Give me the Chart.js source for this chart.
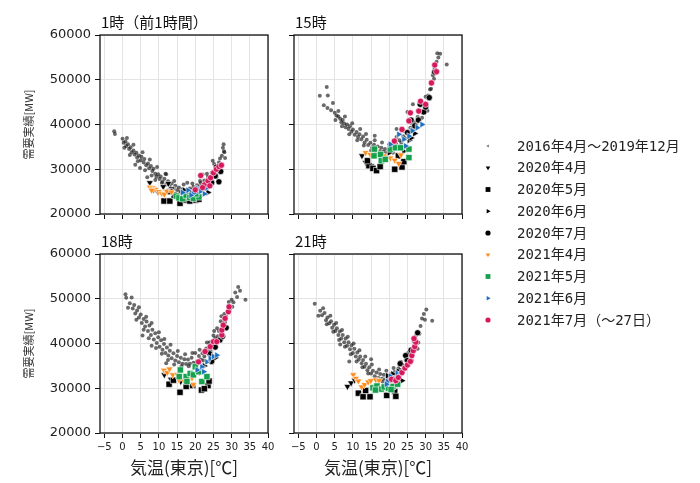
<!DOCTYPE html>
<html>
<head>
<meta charset="utf-8">
<script src="https://cdn.jsdelivr.net/npm/chart.js"></script>
<style>
  body { margin: 0; background: #fff; }
  #wrap { position: relative; width: 700px; height: 483px; }
  canvas { position: absolute; }
</style>
</head>
<body>
<div id="wrap">
  <canvas id="p1" width="290" height="240" style="left:0;top:0"></canvas>
  <canvas id="p2" width="200" height="240" style="left:280px;top:0"></canvas>
  <canvas id="p3" width="290" height="261" style="left:0;top:222px"></canvas>
  <canvas id="p4" width="200" height="261" style="left:280px;top:222px"></canvas>
  <canvas id="lg" width="230" height="220" style="left:470px;top:120px"></canvas>
</div>
<script>
'use strict';

var panelTitles = ['1時（前1時間）', '15時', '18時', '21時'];
var seriesLabels = ['2016年4月～2019年12月', '2020年4月', '2020年5月', '2020年6月', '2020年7月',
                    '2021年4月', '2021年5月', '2021年6月', '2021年7月（～27日）'];
var xTicks = [-5, 0, 5, 10, 15, 20, 25, 30, 35, 40];
var yTicks = [20000, 30000, 40000, 50000, 60000];

// ---- 1時 [気温, 需要] ----
var h1_past = [[-2.3,38500],[-2.1,37900],[0.0,36800],[0.3,35900],[0.8,36200],[1.0,35200],[1.5,35600],[1.8,34500],
  [2.2,34900],[2.5,33800],[3.0,34200],[3.3,33300],[3.8,33700],[4.0,32600],[4.5,33100],[5.0,32000],[5.2,32800],
  [5.8,31500],[6.0,32300],[6.5,30900],[7.0,31300],[7.3,30200],[7.8,30700],[8.2,29600],[8.5,30100],[9.0,29000],
  [9.3,28300],[9.8,28900],[10.2,27800],[10.5,28400],[11.0,27200],[11.5,27900],[12.0,26600],[12.5,27300],
  [13.0,26100],[13.5,26800],[14.0,25700],[14.5,26300],[15.0,25300],[15.5,25900],[16.0,25100],[16.5,25600],
  [17.0,24900],[17.5,25400],[18.0,25000],[18.5,25700],[19.0,25300],[19.5,26100],[20.0,25600],[20.5,26400],
  [21.0,26000],[21.5,26900],[22.0,26500],[22.5,27500],[23.0,27100],[23.5,28300],[24.0,27800],[24.5,29200],
  [25.0,28700],[25.5,30300],[26.0,29800],[26.5,31500],[27.0,30900],[27.3,33000],[27.6,34800],[27.8,35600],
  [27.9,34000],[28.2,32500],[6.8,28200],[3.5,31000],[12.0,28900],[22.0,28800],
  [0.5,34800],[1.2,37000],[2.0,33200],[3.0,35500],[4.2,31800],[5.5,33800],[6.2,29800],[7.5,32200],[8.0,28600],
  [9.5,30500],[10.8,26900],[11.8,29000],[13.2,25200],[14.2,27400],[15.8,24600],[16.8,26600],[18.2,24400],
  [19.2,26800],[20.3,24900],[21.3,27400],[22.3,25800],[23.2,29000],[24.2,27000],[25.2,31200],[25.8,28200],
  [26.8,32400],[27.2,29600],[28.0,33800],[4.8,30300],[9.0,27600],[17.8,27000],[24.8,31900]];
var h1_apr20 = [[8.5,25500],[9.8,24900],[11.2,26100],[12.6,26800],[7.5,27000],[13.5,25600]];
var h1_may20 = [[11.4,22900],[13.0,22900],[14.2,24200],[15.8,22400],[17.5,23100],[18.5,22900],[20.2,23100],[21.0,23300],[13.0,25000]];
var h1_jun20 = [[17.0,25300],[19.0,24800],[21.0,25600],[22.5,26300],[23.5,24800]];
var h1_jul20 = [[24.5,27000],[25.5,28500],[26.5,27200],[23.0,26000],[27.0,29500],[25.8,30500]];
var h1_apr21 = [[7.5,26000],[8.3,25800],[9.0,25500],[10.0,25000],[10.8,24600],[11.5,24400],[12.2,25100],[13.5,24900],[8.0,25300]];
var h1_may21 = [[14.8,24000],[15.5,23600],[16.5,23400],[17.5,24200],[18.5,23700],[19.5,23500],[21.0,23800],[20.2,24500]];
var h1_jun21 = [[16.5,24800],[18.0,25300],[19.5,24600],[20.5,25700],[21.5,25100],[22.5,24500],[23.0,25800],[18.8,24200]];
var h1_jul21 = [[20.0,25400],[21.5,28600],[22.5,26500],[23.5,27400],[24.2,28100],[25.0,29200],[25.8,30000],[26.5,30600],[27.2,30900],[24.0,26300],[22.0,25900]];

// ---- 15時 ----
var h15_past = [[0.9,46400],[2.8,48400],[3.1,46500],[4.5,44800],[3.0,43700],[2.0,44300],[5.0,42600],[5.5,42000],
  [6.0,41800],[6.5,41300],[6.8,40500],[7.2,41000],[7.6,40200],[8.0,39400],[8.4,40000],[8.8,39000],[9.2,39600],
  [9.6,38400],[10.0,38900],[10.5,37700],[11.0,38300],[11.4,37200],[11.8,37800],[12.3,36700],[12.8,37300],
  [13.2,36000],[13.8,36600],[14.2,35400],[14.8,35900],[15.3,34900],[15.8,35500],[16.3,34500],[16.8,35100],
  [17.3,34100],[17.8,34800],[18.3,33900],[18.8,34500],[19.3,33700],[19.8,34400],[20.3,34000],[20.8,35000],
  [21.3,34500],[21.8,35800],[22.3,35200],[22.8,36500],[23.3,36000],[23.8,37400],[24.3,36900],[24.8,38300],
  [25.3,37800],[25.8,39300],[26.3,38800],[26.8,40500],[27.3,40000],[27.8,41700],[28.3,41200],[28.8,43000],
  [29.3,42600],[29.8,44700],[30.3,44200],[30.7,46500],[31.2,47800],[31.6,49500],[32.0,51000],[32.5,52500],
  [33.0,54000],[33.5,55000],[34.0,55800],[35.8,53400],[25.0,42800],[22.0,39000],[16.0,37500],
  [4.0,43200],[5.2,41000],[6.0,43000],[7.0,39600],[7.8,41800],[9.0,37800],[9.8,40300],[11.2,36500],[12.0,39000],
  [13.0,35300],[13.6,37900],[15.0,34200],[16.0,36500],[17.0,33500],[18.0,36000],[19.0,33100],[20.0,35600],
  [21.0,33700],[22.0,37200],[23.0,35100],[24.0,38600],[25.0,36800],[26.0,40400],[27.0,38900],[28.0,43200],
  [29.0,41500],[30.0,46200],[30.5,43100],[31.5,48000],[32.3,50200],[33.2,55900],[26.5,44500]];
var h15_apr20 = [[13.5,31500],[15.0,30800],[12.5,33000]];
var h15_may20 = [[14.4,30800],[15.5,30200],[16.5,29700],[17.5,30600],[21.5,30000],[23.5,30500],[24.0,31700],[22.5,33000],[14.0,31900]];
var h15_jun20 = [[20.0,33700],[22.0,35000],[24.0,34000],[25.5,36500],[27.0,38000],[26.0,37000]];
var h15_jul20 = [[25.0,38200],[27.0,39700],[28.0,41000],[29.5,42800],[30.0,43900],[28.5,44500],[31.0,46000],[32.5,51700],[26.0,41000]];
var h15_apr21 = [[13.5,33700],[14.8,33300],[16.2,34000],[17.4,32600],[18.5,33000],[20.3,32500],[21.5,32000],[22.6,31300],[23.2,33200]];
var h15_may21 = [[15.9,34500],[17.6,33300],[17.8,31900],[18.9,32200],[20.3,34500],[21.7,34800],[23.1,34800],[25.4,34500],[25.4,32600],[15.8,33000]];
var h15_jun21 = [[20.3,35600],[22.6,37800],[24.0,36700],[25.4,37400],[26.3,38600],[27.7,39300],[29.0,40000],[24.5,35200]];
var h15_jul21 = [[21.4,36300],[23.5,38900],[25.4,40800],[25.8,42600],[28.1,43000],[28.6,45200],[30.0,44500],[31.6,49300],[32.5,53300],[33.0,51800]];

// ---- 18時 ----
var h18_past = [[0.8,51000],[1.0,50200],[2.0,49000],[2.8,47800],[3.2,48600],[3.5,46700],[4.0,47400],[4.5,45800],
  [5.0,46500],[5.3,44600],[5.8,45500],[6.2,43800],[6.6,44900],[7.0,42800],[7.4,44000],[7.8,41900],[8.2,43100],
  [8.6,40900],[9.0,42300],[9.4,40100],[9.8,41400],[10.2,39300],[10.6,40700],[11.0,38600],[11.4,39900],
  [11.8,37900],[12.2,39100],[12.6,37300],[13.0,38400],[13.5,36700],[14.0,37800],[14.5,36200],[15.0,37200],
  [15.5,35800],[16.0,36800],[16.5,35500],[17.0,36500],[17.5,35400],[18.0,36400],[18.5,35500],[19.0,36800],
  [19.5,35700],[20.0,37900],[20.5,36000],[21.0,37200],[21.5,36400],[22.0,37800],[22.5,37100],[23.0,38900],
  [23.5,38200],[24.0,40300],[24.5,39600],[25.0,41800],[25.5,41200],[26.0,43400],[26.5,42800],[27.0,45000],
  [27.5,44400],[28.0,46600],[28.5,46000],[29.0,48200],[29.5,47700],[30.0,49800],[30.5,49200],[31.0,51400],
  [31.8,52600],[32.3,51800],[33.8,49800],[8.0,39500],[12.0,35600],[5.5,41800],
  [1.5,48000],[2.5,50300],[3.8,45300],[4.5,48100],[5.8,43100],[6.5,46000],[7.2,41200],[8.0,44600],[9.2,39000],
  [10.0,42500],[10.8,37700],[11.5,41000],[12.5,36300],[13.2,39700],[14.2,35300],[15.2,38300],[16.2,34900],
  [17.2,37600],[18.2,34900],[19.2,37900],[20.2,35400],[21.2,38600],[22.2,36200],[23.2,40200],[24.2,38400],
  [25.2,42800],[26.2,41600],[27.2,46100],[28.2,44800],[29.2,49300],[30.2,48200],[31.5,50400]];
var h18_apr20 = [[11.5,33000],[13.3,32000],[16.0,31500]];
var h18_may20 = [[12.8,30900],[14.0,31800],[15.8,29100],[17.5,30400],[19.3,30600],[21.7,29600],[23.5,30600],[23.8,31600],[22.5,29900]];
var h18_jun20 = [[20.5,34200],[22.5,35000],[24.5,36200],[25.5,36800],[21.5,33500]];
var h18_jul20 = [[24.0,37700],[25.5,39200],[26.8,40800],[27.5,41600],[28.5,43500],[24.5,36000]];
var h18_apr21 = [[11.4,34000],[12.3,33500],[12.9,34300],[13.8,33000],[15.0,33100],[15.5,31900],[16.8,31800],[18.5,32400],[19.5,30800],[19.1,32300]];
var h18_may21 = [[15.9,34100],[15.6,32600],[17.5,32600],[18.6,33300],[17.7,31500],[19.5,33000],[20.0,34800],[21.8,31500],[23.2,32600],[20.9,33700]];
var h18_jun21 = [[20.5,34100],[21.8,34800],[23.2,35900],[24.1,36700],[25.0,37100],[25.9,37400],[22.3,33700]];
var h18_jul21 = [[20.9,35900],[22.7,38200],[24.1,39300],[25.0,40400],[25.9,40400],[27.3,41900],[27.3,43000],[27.7,44100],[28.2,45600],[29.1,47100],[29.3,48200]];

// ---- 21時 ----
var h21_past = [[-0.5,48900],[1.0,47300],[1.5,46300],[2.2,46800],[2.6,45200],[3.0,45800],[3.5,44500],[4.0,45000],
  [4.3,43500],[4.8,44200],[5.2,42800],[5.6,43400],[6.0,41900],[6.4,42700],[6.8,41100],[7.2,41900],[7.6,40300],
  [8.0,41100],[8.4,39500],[8.8,40300],[9.2,38700],[9.6,39600],[10.0,37900],[10.4,38800],[10.8,37100],
  [11.2,38000],[11.6,36400],[12.0,37100],[12.4,35600],[12.8,36300],[13.2,34800],[13.6,35500],[14.0,34000],
  [14.5,34700],[15.0,33300],[15.5,33900],[16.0,32700],[16.5,33500],[17.0,32300],[17.5,33200],[18.0,32100],
  [18.5,33000],[19.0,32000],[19.5,32900],[20.0,32300],[20.5,33200],[21.0,32800],[21.5,33700],[22.0,33400],
  [22.5,34400],[23.0,34100],[23.5,35300],[24.0,35000],[24.5,36300],[25.0,36000],[25.5,37500],[26.0,37200],
  [26.5,38800],[27.0,38600],[27.5,40300],[28.0,40200],[28.3,42200],[28.6,43900],[29.0,45600],[29.5,46600],
  [30.2,47600],[31.8,45100],[9.0,36000],[15.0,36500],[6.5,39800],
  [0.5,46200],[1.8,47900],[2.8,44300],[3.8,46200],[4.6,42600],[5.4,44600],[6.2,40800],[7.0,43000],[7.8,39300],
  [8.6,41500],[9.4,37600],[10.2,40000],[11.0,36000],[11.8,38500],[12.6,34700],[13.4,37100],[14.2,33300],
  [15.2,35300],[16.2,32000],[17.2,34200],[18.2,31500],[19.2,33900],[20.2,31700],[21.2,34500],[22.2,32800],
  [23.2,35900],[24.2,34300],[25.2,37900],[26.2,36200],[27.2,41600],[27.8,38800],[29.8,45300]];
var h21_apr20 = [[8.5,30400],[9.5,31200],[10.5,31800]];
var h21_may20 = [[11.5,28900],[12.8,28100],[14.7,28100],[19.3,28400],[21.5,29300],[21.8,28200],[13.5,29500]];
var h21_jun20 = [[19.5,32800],[21.0,33200],[22.5,33800],[23.5,31700]];
var h21_jul20 = [[23.0,35500],[24.5,37300],[26.0,38500],[27.0,40600],[27.8,42400],[25.0,36200]];
var h21_apr21 = [[10.1,33000],[10.8,32200],[11.5,31600],[12.4,30300],[13.2,30800],[14.2,31400],[14.9,31700],[16.3,31900],[17.2,31700]];
var h21_may21 = [[15.5,30100],[16.6,30500],[17.8,29800],[18.6,30300],[19.8,30000],[21.0,30400],[22.3,30900],[16.2,29600],[20.5,29700]];
var h21_jun21 = [[19.5,31500],[20.3,32700],[21.5,32100],[22.2,33400],[19.2,30900],[23.0,33000]];
var h21_jul21 = [[20.6,32000],[21.8,31700],[22.5,32400],[23.5,33500],[24.3,34500],[25.0,35200],[25.8,36000],[26.2,37300],[26.6,38400],[27.0,39300],[27.3,40300],[26.8,41100]];

var seriesStyle = [
  { shape: 'circle',   rot: 0,   r: 2.0, color: 'rgba(15,15,15,0.62)', ew: 0 },
  { shape: 'triangle', rot: 180, r: 4.0, color: '#000', ew: 0.6 },
  { shape: 'rect',     rot: 0,   r: 4.4, color: '#000', ew: 0.6 },
  { shape: 'triangle', rot: 90,  r: 4.0, color: '#000', ew: 0.6 },
  { shape: 'circle',   rot: 0,   r: 3.1, color: '#000', ew: 0.6 },
  { shape: 'triangle', rot: 180, r: 4.0, color: '#ff8c1a', ew: 0.6 },
  { shape: 'rect',     rot: 0,   r: 4.4, color: '#14a04c', ew: 0.6 },
  { shape: 'triangle', rot: 90,  r: 4.0, color: '#1f6fbf', ew: 0.6 },
  { shape: 'circle',   rot: 0,   r: 3.1, color: '#d6195c', ew: 0.6 }
];

var panelTitlePlugin = {
  id: 'panelTitle',
  afterDraw: function (chart, args, opts) {
    var ctx = chart.ctx, a = chart.chartArea;
    ctx.save();
    ctx.font = '15px "Noto Sans CJK JP"';
    ctx.fillStyle = '#111';
    ctx.textBaseline = 'middle';
    ctx.fillText(opts.text, a.left + 1, a.top - 13);
    ctx.restore();
  }
};

var framePlugin = {
  id: 'frame',
  afterDatasetsDraw: function (chart) {
    var ctx = chart.ctx, a = chart.chartArea;
    ctx.save();
    ctx.strokeStyle = '#111';
    ctx.lineWidth = 1.3;
    ctx.strokeRect(a.left, a.top, a.right - a.left, a.bottom - a.top);
    ctx.restore();
  }
};

function makePanel(id, title, sets, cfg) {
  return new Chart(document.getElementById(id), {
    type: 'scatter',
    data: {
      datasets: sets.map(function (d, i) {
        var s = seriesStyle[i];
        return {
          label: seriesLabels[i],
          data: d.map(function (p) { return { x: p[0], y: p[1] }; }),
          pointStyle: s.shape,
          rotation: s.rot,
          pointRadius: s.r,
          pointBackgroundColor: s.color,
          pointBorderColor: '#fff',
          pointBorderWidth: s.ew,
          order: 9 - i
        };
      })
    },
    options: {
      responsive: false,
      animation: false,
      devicePixelRatio: 1,
      events: [],
      layout: { padding: cfg.pad },
      plugins: {
        legend: { display: false },
        tooltip: { enabled: false },
        panelTitle: { text: title }
      },
      scales: {
        x: {
          min: -6.2, max: 40,
          afterBuildTicks: function (s) { s.ticks = xTicks.map(function (v) { return { value: v }; }); },
          afterFit: function (s) { s.height = cfg.xh; },
          border: { display: false },
          grid: { color: '#e4e4e4', lineWidth: 1, tickColor: '#111', tickLength: 5, tickWidth: 1 },
          ticks: {
            display: cfg.xlab, padding: 3, maxRotation: 0, autoSkip: false,
            color: '#222', font: { family: 'DejaVu Sans', size: 10 },
            callback: function (v) { return v < 0 ? '\u2212' + Math.abs(v) : String(v); }
          },
          title: {
            display: cfg.xlab, text: '気温(東京)[℃]', color: '#222',
            font: { family: 'Noto Sans CJK JP', size: 17 }, padding: { top: 0, bottom: 5 }
          }
        },
        y: {
          min: 20000, max: 60000,
          afterBuildTicks: function (s) { s.ticks = yTicks.map(function (v) { return { value: v }; }); },
          afterFit: function (s) { s.width = cfg.yw; },
          border: { display: false },
          grid: { color: '#e4e4e4', lineWidth: 1, tickColor: '#111', tickLength: 5, tickWidth: 1 },
          ticks: {
            display: cfg.ylab, padding: 4, color: '#222',
            font: { family: 'DejaVu Sans', size: 13 },
            callback: function (v) { return String(v); }
          },
          title: {
            display: cfg.ylab, text: '需要実績[MW]', color: '#333',
            font: { family: 'Noto Sans CJK JP', size: 11 }, padding: { top: 22, bottom: 0 }
          }
        }
      }
    },
    plugins: [panelTitlePlugin, framePlugin]
  });
}

makePanel('p1', panelTitles[0],
  [h1_past, h1_apr20, h1_may20, h1_jun20, h1_jul20, h1_apr21, h1_may21, h1_jun21, h1_jul21],
  { pad: { top: 35, left: 0, right: 22, bottom: 0 }, xh: 26, yw: 100, xlab: false, ylab: true });
makePanel('p2', panelTitles[1],
  [h15_past, h15_apr20, h15_may20, h15_jun20, h15_jul20, h15_apr21, h15_may21, h15_jun21, h15_jul21],
  { pad: { top: 35, left: 0, right: 18, bottom: 0 }, xh: 26, yw: 14, xlab: false, ylab: false });
makePanel('p3', panelTitles[2],
  [h18_past, h18_apr20, h18_may20, h18_jun20, h18_jul20, h18_apr21, h18_may21, h18_jun21, h18_jul21],
  { pad: { top: 32, left: 0, right: 22, bottom: 0 }, xh: 50, yw: 100, xlab: true, ylab: true });
makePanel('p4', panelTitles[3],
  [h21_past, h21_apr20, h21_may20, h21_jun20, h21_jul20, h21_apr21, h21_may21, h21_jun21, h21_jul21],
  { pad: { top: 32, left: 0, right: 18, bottom: 0 }, xh: 50, yw: 14, xlab: true, ylab: false });

// legend: a chart with no data, drawn by a small plugin using Chart's point helper
var legendPlugin = {
  id: 'sideLegend',
  afterDraw: function (chart) {
    var ctx = chart.ctx;
    ctx.save();
    ctx.font = '14px "DejaVu Sans Mono", "Noto Sans CJK JP"';
    ctx.textBaseline = 'middle';
    seriesLabels.forEach(function (lab, i) {
      var s = seriesStyle[i];
      var y = 26 + i * 21.75;
      ctx.fillStyle = i === 0 ? 'rgba(60,60,60,0.7)' : s.color;
      Chart.helpers.drawPoint(ctx, {
        pointStyle: i === 0 ? 'triangle' : s.shape,
        rotation: i === 0 ? 270 : s.rot,
        radius: i === 0 ? 1.8 : (s.shape === 'rect' ? 3.4 : 2.6),
        borderWidth: 0
      }, 18, y);
      ctx.fillStyle = '#222';
      ctx.fillText(lab, 47, y + 1);
    });
    ctx.restore();
  }
};

new Chart(document.getElementById('lg'), {
  type: 'scatter',
  data: { datasets: [] },
  options: {
    responsive: false, animation: false, devicePixelRatio: 1, events: [],
    plugins: { legend: { display: false }, tooltip: { enabled: false } },
    scales: { x: { display: false }, y: { display: false } }
  },
  plugins: [legendPlugin]
});
</script>
</body>
</html>
